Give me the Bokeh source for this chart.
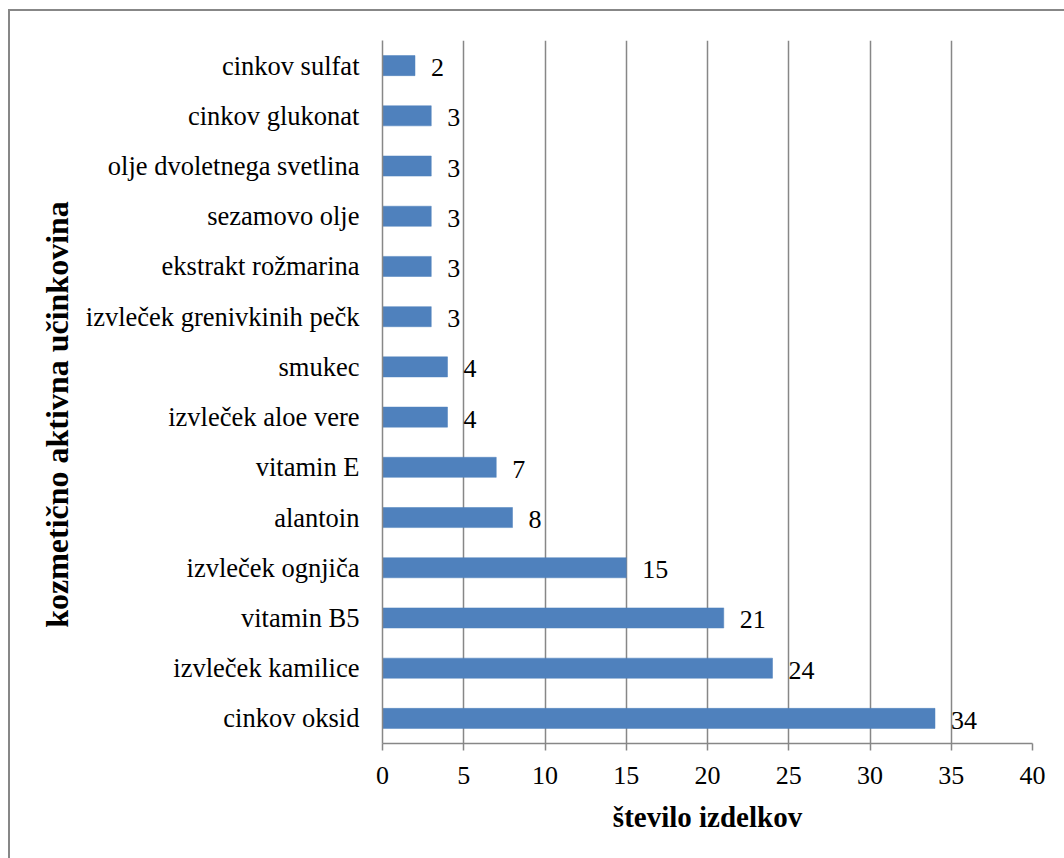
from bokeh.plotting import figure
from bokeh.layouts import row
from bokeh.models import FactorRange, Range1d, FixedTicker, ColumnDataSource, Label
from bokeh.core.properties import value
from bokeh.embed import file_html
from bokeh.resources import INLINE

# Active cosmetic ingredients, listed top to bottom as shown
ingredients = [
    "cinkov sulfat",
    "cinkov glukonat",
    "olje dvoletnega svetlina",
    "sezamovo olje",
    "ekstrakt rožmarina",
    "izvleček grenivkinih pečk",
    "smukec",
    "izvleček aloe vere",
    "vitamin E",
    "alantoin",
    "izvleček ognjiča",
    "vitamin B5",
    "izvleček kamilice",
    "cinkov oksid",
]
product_counts = [2, 3, 3, 3, 3, 3, 4, 4, 7, 8, 15, 21, 24, 34]
x_ticks = [0, 5, 10, 15, 20, 25, 30, 35, 40]

FONT = "Liberation Serif"
GRAY = "#878787"
BAR = "#4F81BD"

source = ColumnDataSource(data=dict(
    name=ingredients,
    count=product_counts,
    label=[str(v) for v in product_counts],
))

# narrow strip on the left that carries the vertical axis title
t = figure(
    width=69, height=847, x_range=Range1d(0, 1), y_range=Range1d(0, 1),
    x_axis_location=None, y_axis_location=None,
    output_backend="svg", toolbar_location=None, min_border=0,
    outline_line_color=None, background_fill_color="white", border_fill_color="white",
)
t.grid.visible = False
t.add_layout(Label(
    x=46, y=329, x_units="screen", y_units="screen",
    text="kozmetično aktivna učinkovina", angle=90, angle_units="deg",
    text_align="center", text_baseline="middle",
    text_font=FONT, text_font_size="32px", text_font_style="bold", text_color="black",
))

p = figure(
    width=985, height=847,
    y_range=FactorRange(factors=list(reversed(ingredients)), range_padding=0),
    x_range=Range1d(0, 40),
    output_backend="svg", toolbar_location=None,
    min_border_left=303, min_border_top=29, min_border_right=32, min_border_bottom=115,
    outline_line_color=None, background_fill_color="white", border_fill_color="white",
)

p.hbar(y="name", right="count", left=0, height=0.4, source=source,
       fill_color=BAR, line_color=BAR, line_width=0.5)

p.text(x="count", y="name", text="label", source=source,
       x_offset=16, y_offset=2, text_align="left", text_baseline="middle",
       text_font=value(FONT), text_font_size="26px", text_color="black")

# x axis
p.xaxis.ticker = FixedTicker(ticks=x_ticks)
p.xaxis.minor_tick_line_color = None
p.xaxis.major_tick_out = 7
p.xaxis.major_tick_in = 0
p.xaxis.major_tick_line_color = GRAY
p.xaxis.major_tick_line_width = 1.5
p.xaxis.axis_line_color = GRAY
p.xaxis.axis_line_width = 1.5
p.xaxis.major_label_text_font = FONT
p.xaxis.major_label_text_font_size = "26px"
p.xaxis.major_label_text_color = "black"
p.xaxis.major_label_standoff = 16
p.xaxis.axis_label = "število izdelkov"
p.xaxis.axis_label_text_font = FONT
p.xaxis.axis_label_text_font_size = "29px"
p.xaxis.axis_label_text_font_style = "bold"
p.xaxis.axis_label_text_color = "black"
p.xaxis.axis_label_standoff = 14

# y axis
p.yaxis.major_tick_line_color = None
p.yaxis.minor_tick_line_color = None
p.yaxis.axis_line_color = GRAY
p.yaxis.axis_line_width = 1.5
p.yaxis.major_label_text_font = FONT
p.yaxis.major_label_text_font_size = "26.5px"
p.yaxis.major_label_text_color = "black"
p.yaxis.major_label_standoff = 17

# grid
p.xgrid.ticker = FixedTicker(ticks=x_ticks)
p.xgrid.grid_line_color = GRAY
p.xgrid.grid_line_width = 1.5
p.ygrid.grid_line_color = None

chart = row(t, p, spacing=0)
# chart frame (left and top edges fall inside the window)
chart.styles = {
    "margin-left": "8px",
    "margin-top": "9px",
    "border-left": f"2px solid {GRAY}",
    "border-top": f"2px solid {GRAY}",
}

open("out.html", "w").write(file_html(chart, INLINE))
